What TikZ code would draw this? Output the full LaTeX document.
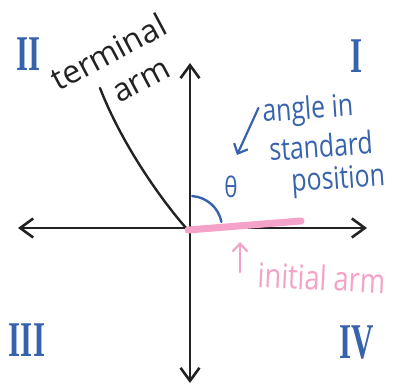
\documentclass[tikz,border=0pt]{standalone}
\usepackage{fontspec}
\newfontfamily\handfont[FakeStretch=0.8]{Open Sans}
\newfontfamily\inkfont{Open Sans}
\newfontfamily\numfont[FakeStretch=0.62]{Liberation Serif}
\usetikzlibrary{arrows.meta,calc}
\definecolor{AxisInk}{HTML}{222222}
\definecolor{PenBlue}{HTML}{3763AD}
\definecolor{PenPink}{HTML}{F4A2C7}

\begin{document}
\begin{tikzpicture}[x=1pt, y=-1pt,
  axisline/.style={AxisInk, line width=2.6pt, line cap=round,
                   {Straight Barb[length=13pt,width=19pt]}-{Straight Barb[length=13pt,width=19pt]}},
  termarm/.style={AxisInk, line width=2.4pt, line cap=round},
  initarm/.style={PenPink, line width=7pt, line cap=round},
  thetaarc/.style={PenBlue, line width=2.4pt, line cap=round},
  bluearr/.style={PenBlue, line width=2.2pt, line cap=round, -{Straight Barb[length=8pt,width=15pt]}},
  pinkarr/.style={PenPink, line width=2.2pt, line cap=round, -{Straight Barb[length=8pt,width=15pt]}},
  quad/.style={text=PenBlue, font=\numfont\bfseries\fontsize{50}{50}\selectfont, inner sep=0pt},
  bluenote/.style={text=PenBlue, font=\handfont\fontsize{31}{31}\selectfont, inner sep=0pt, anchor=base west, rotate=4},
  inknote/.style={text=AxisInk, font=\inkfont\fontsize{32}{32}\selectfont, inner sep=0pt, anchor=base west, rotate=28},
  pinknote/.style={text=PenPink, font=\handfont\fontsize{34}{34}\selectfont, inner sep=0pt, anchor=base west, rotate=-3}]
\useasboundingbox (0,0) rectangle (393,385);
%% axes
\coordinate (O) at (190,228);
\coordinate (xl) at (18,228);
\coordinate (xr) at (367,228);
\coordinate (yt) at (190,63);
\coordinate (yb) at (190,383);
\draw[axisline] (xl) -- (xr);
\draw[axisline] (yt) -- (yb);
%% arms and angle
\coordinate (T) at (100,88);
\draw[termarm] (187,229) .. controls (168,208) and (124,150) .. (T);
\draw[initarm] (188,230) -- (301,221);
\draw[thetaarc] ($(O)+(-86:32)$) arc[start angle=-86, end angle=-11, radius=32];
\node[text=PenBlue, font=\handfont\fontsize{28}{28}\selectfont, inner sep=0pt] (theta) at (231,187) {θ};
%% quadrant numbers
\node[quad] (q2) at (29,54) {II};
\node[quad] (q1) at (357,56) {I};
\node[quad] (q3) at (27,340) {III};
\node[quad] (q4) at (357,343) {IV};
%% labels
\node[inknote] (term) at (58,92) {terminal};
\node[inknote] (tarm) at (119,104) {arm};
\node[bluenote] (ang1) at (263,122) {angle in};
\node[bluenote] (ang2) at (270,161) {standard};
\node[bluenote] (ang3) at (292,192) {position};
\coordinate (tpt) at (237,155);
\draw[bluearr] (ang1.west) ++(-4,-6) -- (tpt);
\node[pinknote] (init) at (257,287) {initial arm};
\coordinate (ibase) at (240,272);
\coordinate (ipt) at (240,242);
\draw[pinkarr] (ibase) -- (ipt);
\end{tikzpicture}
\end{document}
